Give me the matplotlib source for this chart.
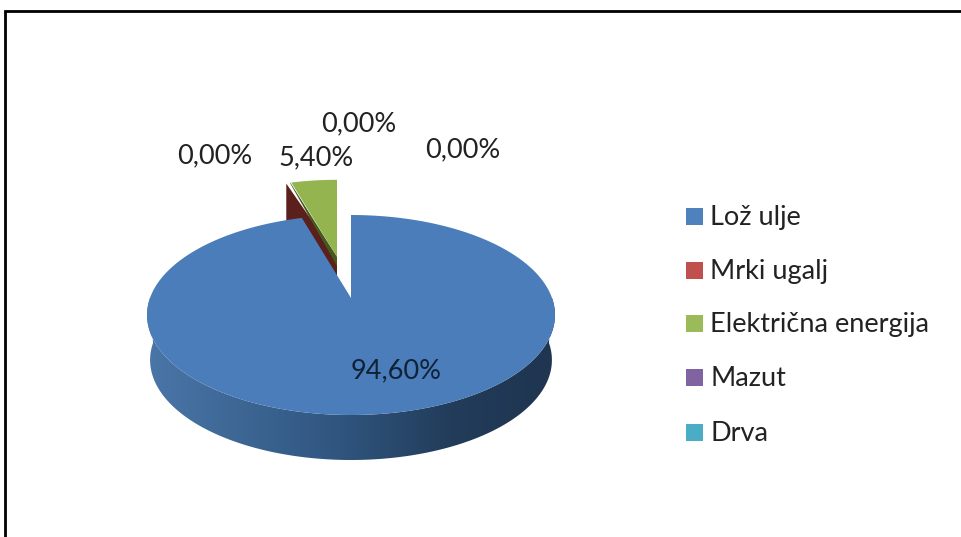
import numpy as np
import matplotlib
matplotlib.use("Agg")
import matplotlib.pyplot as plt
from matplotlib.patches import Polygon, Rectangle
from matplotlib.colors import LinearSegmentedColormap

plt.rcParams['font.family'] = ['Lato', 'DejaVu Sans']

categories = ["Lož ulje", "Mrki ugalj", "Električna energija", "Mazut", "Drva"]
values = [94.60, 0.00, 5.40, 0.00, 0.00]
colors = ["#4F81BD", "#C0504D", "#9BBB59", "#8064A2", "#4BACC6"]
label_xy = [(396, 370.5), (215, 155.5), (316, 157.5), (359, 123.5), (463, 149.5)]
legend_y = [216, 270, 323, 377, 432]

W, H = 961, 537
fig = plt.figure(figsize=(W / 100, H / 100), dpi=100)
ax = fig.add_axes([0, 0, 1, 1])
ax.axis("off")

# frame, cut by the right and bottom edges of the image
ax.plot([4.5, 4.5, W + 5], [H + 5, 10.5, 10.5], color="black", lw=2.0, solid_joinstyle="miter")

# perspective projection of the unit disc
CX, CY, R, C, A = 351.0, 298.0, 201.0, 0.17, -46.45
ANGLE_SCALE = 0.85   # visual compression of the small slice near the back
DEPTH = 45.0


def proj(deg, r=1.0):
    t = np.radians(deg)
    u, v = r * np.sin(t), r * np.cos(t)
    d = 1 + C * v
    return np.column_stack([CX + R * u / d, (A * v + CY) / d])


total = sum(values)
green_sweep = values[2] / total * 360 * ANGLE_SCALE
blue_end = 360 - green_sweep

# exploded small slices (drawn behind the big one)
apex = np.array([337.0, 257.0])
S = 0.93
origin = np.array([CX, CY])
theta = np.linspace(-green_sweep, 0, 30)
arc = apex + S * (proj(theta) - origin)
left = arc[0]

# Mrki ugalj: zero-width slice, only its dark wall shows
shift = np.array([-5.0, 1.0])
ax.add_patch(Polygon([left + shift, left + shift + [0, DEPTH], apex + [0, DEPTH], apex],
                     closed=True, fc="#5b1f1c", ec="none", zorder=2))
# Električna energija wall + top
ax.add_patch(Polygon([left + [-1, 0], apex, apex + [0, 9], left + [-1, 1]],
                     closed=True, fc="#46591f", ec="none", zorder=3))
ax.add_patch(Polygon(np.vstack([apex, arc]), closed=True, fc="#93B44F", ec="none", zorder=4))

# Lož ulje wall with horizontal gradient, clipped to the wall outline
ts = np.linspace(90, 270, 181)
top = proj(ts)
bot = proj(ts)
bot[:, 0] = CX + (bot[:, 0] - CX) * 0.985
bot[:, 1] += DEPTH
xmin, xmax = top[:, 0].min(), top[:, 0].max()
wall = Polygon(np.vstack([top, bot[::-1]]), closed=True, fc="none", ec="none", transform=ax.transData)
ax.add_patch(wall)
cmap = LinearSegmentedColormap.from_list(
    "wall", [(0.0, "#4a76a8"), (0.45, "#315781"), (0.75, "#223c5a"), (1.0, "#1f3550")])
img = ax.imshow(np.linspace(0, 1, 512).reshape(1, -1), cmap=cmap, aspect="auto",
                extent=(xmin, xmax, bot[:, 1].max() + 2, top[:, 1].min()), zorder=5)
img.set_clip_path(wall)

# Lož ulje top
th = np.linspace(0, blue_end, 400)
ax.add_patch(Polygon(np.vstack([[CX, CY], proj(th)]), closed=True, fc="#4A7DB9", ec="none", zorder=6))

# data labels
for v, (x, y), i in zip(values, label_xy, range(5)):
    txt = f"{v:.2f}%".replace(".", ",")
    ax.text(x, y, txt, ha="center", va="center", fontsize=19.5,
            color="#0f2238" if i == 0 else "#222222", zorder=8)

# legend
for cat, col, y in zip(categories, colors, legend_y):
    ax.add_patch(Rectangle((686, y - 8), 16.5, 16.5, fc=col, ec="none", zorder=8))
    ax.text(710.5, y + 1.5, cat, ha="left", va="center", fontsize=19.5, color="#222222", zorder=8)

ax.set_xlim(0, W)
ax.set_ylim(H, 0)
fig.savefig("out.png", dpi=100)
